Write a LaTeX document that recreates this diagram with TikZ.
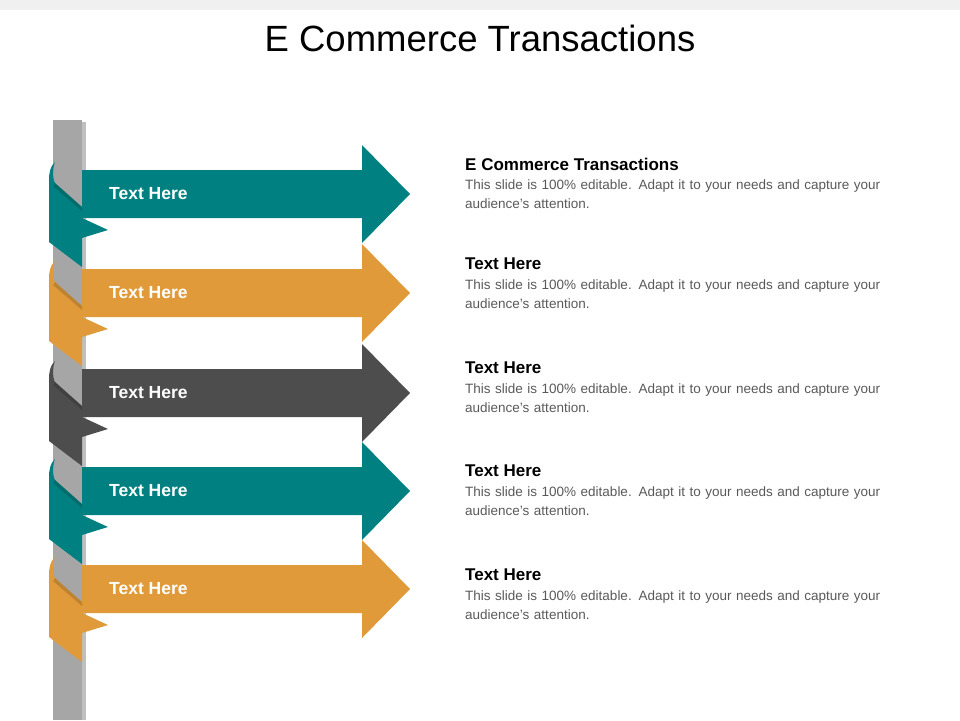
\documentclass[tikz,border=0pt]{standalone}
\usepackage{fontspec}
\setmainfont{Liberation Sans}
\usetikzlibrary{positioning}
\definecolor{teal1}{RGB}{0,128,128}
\definecolor{orange1}{RGB}{224,154,58}
\definecolor{gray1}{RGB}{77,77,77}
\definecolor{pole}{RGB}{166,166,166}
\tikzset{
  heading/.style={anchor=west,inner sep=0pt,font=\fontsize{17}{20}\selectfont\bfseries},
  bodytext/.style={anchor=north west,inner sep=0pt,text width=415pt,align=left,text=black!65,font=\fontsize{13.5}{18.5}\selectfont},
  label/.style={anchor=west,inner sep=0pt,text=white,font=\fontsize{17.5}{20}\selectfont\bfseries}
}
\begin{document}
\begin{tikzpicture}[x=1pt,y=-1pt]
\useasboundingbox (0,0) rectangle (960,720);
\fill[black!6] (0,0) rectangle (960,10);
\node (title) at (480,38) {\fontsize{36.5}{40}\selectfont E Commerce Transactions};
% pole
\fill[black!25] (82,122) rectangle (86,720);
\fill[pole] (53,120) rectangle (82,720);
% ribbons
\foreach \y/\col/\hy/\head [count=\i] in {194/teal1/164/E Commerce Transactions,293/orange1/264/Text Here,393/gray1/368/Text Here,491/teal1/471/Text Here,589/orange1/575/Text Here}{
  \fill[\col] (82,\y-24) -- (362,\y-24) -- (362,\y-49) -- (410,\y) -- (362,\y+49) -- (362,\y+24) -- (82,\y+24) -- cycle;
  \fill[\col] (82,\y+13) -- (55,\y-11) .. controls (52,\y-16) and (53,\y-28) .. (55,\y-32)
    .. controls (50,\y-28) and (49,\y-20) .. (49,\y-14) -- (49,\y+48) -- (82,\y+73)
    -- (82,\y+44) -- (108,\y+36) -- (82,\y+24) -- cycle;
  \fill[black,opacity=.15] (82,\y+13) -- (55,\y-11) -- (53,\y-8) -- (82,\y+17) -- cycle;
  \node[label] (lab\i) at (109,\y) {Text Here};
  \node[heading] (head\i) at (465,\hy) {\head};
  \node[bodytext] (body\i) at (465,\hy+16) {\raggedright This slide is 100\% editable. Adapt it to your needs and capture your audience's attention.};
}
\end{tikzpicture}
\end{document}
